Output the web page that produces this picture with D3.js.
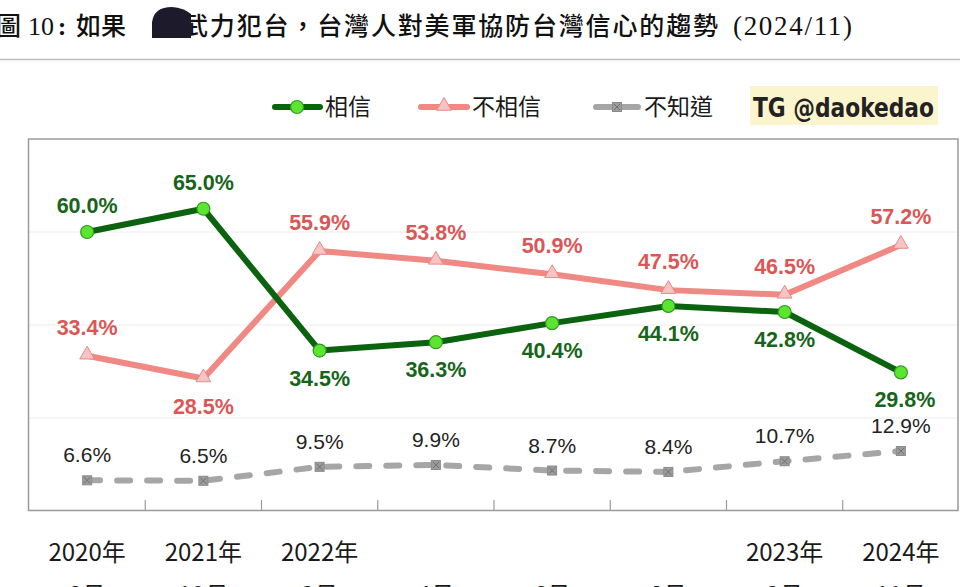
<!DOCTYPE html>
<html><head><meta charset="utf-8">
<script src="https://cdn.jsdelivr.net/npm/d3@7"></script>
<style>html,body{margin:0;padding:0;background:#fff;overflow:hidden}svg{display:block}</style>
</head><body>
<script>
const categories = ["2020-08","2021-10","2022-03","2022-04","2022-06","2022-08","2023-03","2024-11"];
const yearLabels = ["2020年","2021年","2022年","","","","2023年","2024年"];
const monthLabels = ["8月","10月","3月","4月","6月","8月","3月","11月"];
const trustValues = [60.0, 65.0, 34.5, 36.3, 40.4, 44.1, 42.8, 29.8];
const distrustValues = [33.4, 28.5, 55.9, 53.8, 50.9, 47.5, 46.5, 57.2];
const unknownValues = [6.6, 6.5, 9.5, 9.9, 8.7, 8.4, 10.7, 12.9];
const gridValues = [20, 40, 60];

const W = 960, H = 587;
const svg = d3.select("body").append("svg").attr("width", W).attr("height", H);

// Title
const cjk = "'Noto Sans CJK TC','Noto Sans CJK SC',sans-serif";
const title = svg.append("g").attr("fill", "#111");
title.append("text").attr("x", -4).attr("y", 35).attr("font-family", cjk).attr("font-size", 25).attr("font-weight", 500).text("圖");
title.append("text").attr("x", 28).attr("y", 35).attr("font-family", "'Liberation Serif',serif").attr("font-size", 26).text("10");
title.append("text").attr("x", 62).attr("y", 35).attr("text-anchor", "middle").attr("font-family", "'Liberation Serif',serif").attr("font-size", 26).attr("font-weight", "bold").text(":");
title.append("text").attr("x", 76).attr("y", 35).attr("font-family", cjk).attr("font-size", 25).attr("font-weight", 500).text("如果");
title.append("text").attr("x", 183).attr("y", 35).attr("font-family", cjk).attr("font-size", 25).attr("font-weight", 500)
  .attr("textLength", 535).attr("lengthAdjust", "spacing").text("武力犯台，台灣人對美軍協防台灣信心的趨勢");
title.append("text").attr("x", 733).attr("y", 35).attr("font-family", "'Liberation Serif',serif").attr("font-size", 27)
  .attr("textLength", 119).attr("lengthAdjust", "spacing").text("(2024/11)");
svg.append("path").attr("d", "M152,38 L152,22 Q154,7 172,7 Q184,8 191,14 L191,38 Z").attr("fill", "#1d1a2c");
svg.append("line").attr("x1", 0).attr("x2", W).attr("y1", 59.5).attr("y2", 59.5).attr("stroke", "#bdbdbd").attr("stroke-width", 1.5);

// Scales
const x = d3.scaleBand().domain(categories).range([29, 959]).padding(0);
const cx = d => x(d) + x.bandwidth() / 2;
const y = d3.scaleLinear().domain([0, 80]).range([511, 139]);

// Grid
svg.append("g").selectAll("line").data(gridValues).join("line")
  .attr("x1", 29).attr("x2", 958).attr("y1", d => y(d)).attr("y2", d => y(d))
  .attr("stroke", "#ececec").attr("stroke-width", 1);

// Frame
svg.append("rect").attr("x", 28.5).attr("y", 139).attr("width", 929.5).attr("height", 371.5)
  .attr("fill", "none").attr("stroke", "#9a9a9a").attr("stroke-width", 1.5);

// Tick marks (inner) at band boundaries
const axis = d3.axisBottom(x).tickSize(0).tickFormat("");
const ax = svg.append("g").attr("transform", "translate(0,510)").call(axis);
ax.select(".domain").remove();
svg.append("g").selectAll("line").data(categories.slice(1)).join("line")
  .attr("x1", d => x(d)).attr("x2", d => x(d)).attr("y1", 500).attr("y2", 510)
  .attr("stroke", "#9a9a9a").attr("stroke-width", 1.2);

// X labels
svg.append("g").selectAll("text").data(categories).join("text")
  .attr("x", cx).attr("y", 561).attr("text-anchor", "middle")
  .attr("font-family", cjk).attr("font-size", 24).attr("fill", "#1a1a1a")
  .text((d, i) => yearLabels[i]);
svg.append("g").selectAll("text").data(categories).join("text")
  .attr("x", cx).attr("y", 604).attr("text-anchor", "middle")
  .attr("font-family", cjk).attr("font-size", 24).attr("fill", "#1a1a1a")
  .text((d, i) => monthLabels[i]);

const line = d3.line().x((d, i) => cx(categories[i])).y(d => y(d));

// Colors
const green = "#0b620f", greenPt = "#5be52e", greenPtStroke = "#2f9a22", greenTxt = "#17651a";
const pink = "#f08884", pinkPt = "#f9c3c3", pinkPtStroke = "#e48a8a", pinkTxt = "#dc5656";
const gray = "#a6a6a6";

// Unknown (dashed)
svg.append("path").datum(unknownValues).attr("d", line).attr("fill", "none")
  .attr("stroke", gray).attr("stroke-width", 6).attr("stroke-dasharray", "13,17").attr("stroke-linecap", "round");
// Distrust
svg.append("path").datum(distrustValues).attr("d", line).attr("fill", "none")
  .attr("stroke", pink).attr("stroke-width", 6).attr("stroke-linejoin", "round");
// Trust
svg.append("path").datum(trustValues).attr("d", line).attr("fill", "none")
  .attr("stroke", green).attr("stroke-width", 6).attr("stroke-linejoin", "round");

function grayMarker(g, px, py) {
  g.append("rect").attr("x", px - 4.5).attr("y", py - 4.5).attr("width", 9).attr("height", 9)
    .attr("fill", "#9c9c9c").attr("stroke", "#8a8a8a").attr("stroke-width", 1);
  g.append("path").attr("d", `M${px-3},${py-3}L${px+3},${py+3}M${px+3},${py-3}L${px-3},${py+3}`)
    .attr("stroke", "#6e6e6e").attr("stroke-width", 1);
}
function triMarker(g, px, py) {
  g.append("path").attr("d", d3.symbol(d3.symbolTriangle, 95)()).attr("transform", `translate(${px},${py-1})`)
    .attr("fill", pinkPt).attr("stroke", pinkPtStroke).attr("stroke-width", 1);
}
function circMarker(g, px, py) {
  g.append("circle").attr("cx", px).attr("cy", py).attr("r", 6.5)
    .attr("fill", greenPt).attr("stroke", greenPtStroke).attr("stroke-width", 1.2);
}

const mk = svg.append("g");
unknownValues.forEach((v, i) => grayMarker(mk, cx(categories[i]), y(v)));
distrustValues.forEach((v, i) => triMarker(mk, cx(categories[i]), y(v)));
trustValues.forEach((v, i) => circMarker(mk, cx(categories[i]), y(v)));

// Labels
const lf = "'Liberation Sans',Arial,sans-serif";
const trustAbove = [true, true, false, false, false, false, false, false];
const distrustAbove = [true, false, true, true, true, true, true, true];
svg.append("g").selectAll("text").data(trustValues).join("text")
  .attr("x", (d, i) => cx(categories[i]) + (i === 7 ? 4 : 0))
  .attr("y", (d, i) => y(d) + (trustAbove[i] ? -19 : 35))
  .attr("text-anchor", "middle").attr("font-family", lf).attr("font-size", 21.5).attr("font-weight", "bold")
  .attr("fill", greenTxt).text(d => d.toFixed(1) + "%");
svg.append("g").selectAll("text").data(distrustValues).join("text")
  .attr("x", (d, i) => cx(categories[i]))
  .attr("y", (d, i) => y(d) + (distrustAbove[i] ? -21 : 36))
  .attr("text-anchor", "middle").attr("font-family", lf).attr("font-size", 21.5).attr("font-weight", "bold")
  .attr("fill", pinkTxt).text(d => d.toFixed(1) + "%");
svg.append("g").selectAll("text").data(unknownValues).join("text")
  .attr("x", (d, i) => cx(categories[i]))
  .attr("y", (d, i) => y(d) - 18)
  .attr("text-anchor", "middle").attr("font-family", lf).attr("font-size", 21)
  .attr("fill", "#222").text(d => d.toFixed(1) + "%");

// Legend
const lg = svg.append("g");
const ly = 107;
lg.append("line").attr("x1", 275).attr("x2", 320).attr("y1", ly).attr("y2", ly).attr("stroke", green).attr("stroke-width", 6).attr("stroke-linecap", "round");
circMarker(lg, 297, ly);
lg.append("text").attr("x", 325).attr("y", ly + 8).attr("font-family", cjk).attr("font-size", 23).attr("fill", "#1a1a1a").text("相信");
lg.append("line").attr("x1", 421).attr("x2", 467).attr("y1", ly).attr("y2", ly).attr("stroke", pink).attr("stroke-width", 6).attr("stroke-linecap", "round");
triMarker(lg, 444, ly);
lg.append("text").attr("x", 472).attr("y", ly + 8).attr("font-family", cjk).attr("font-size", 23).attr("fill", "#1a1a1a").text("不相信");
lg.append("line").attr("x1", 596).attr("x2", 638).attr("y1", ly).attr("y2", ly).attr("stroke", gray).attr("stroke-width", 6).attr("stroke-linecap", "round");
grayMarker(lg, 617, ly);
lg.append("text").attr("x", 644).attr("y", ly + 8).attr("font-family", cjk).attr("font-size", 23).attr("fill", "#1a1a1a").text("不知道");

// Watermark
svg.append("rect").attr("x", 750).attr("y", 86).attr("width", 188).attr("height", 39).attr("fill", "#fcf4cc");
svg.append("text").attr("x", 753).attr("y", 117).attr("font-family", "'Liberation Sans Narrow','DejaVu Sans Condensed',sans-serif")
  .attr("font-size", 27).attr("font-weight", "bold").attr("fill", "#222")
  .attr("textLength", 181).attr("lengthAdjust", "spacingAndGlyphs").text("TG @daokedao");
</script>
</body></html>
